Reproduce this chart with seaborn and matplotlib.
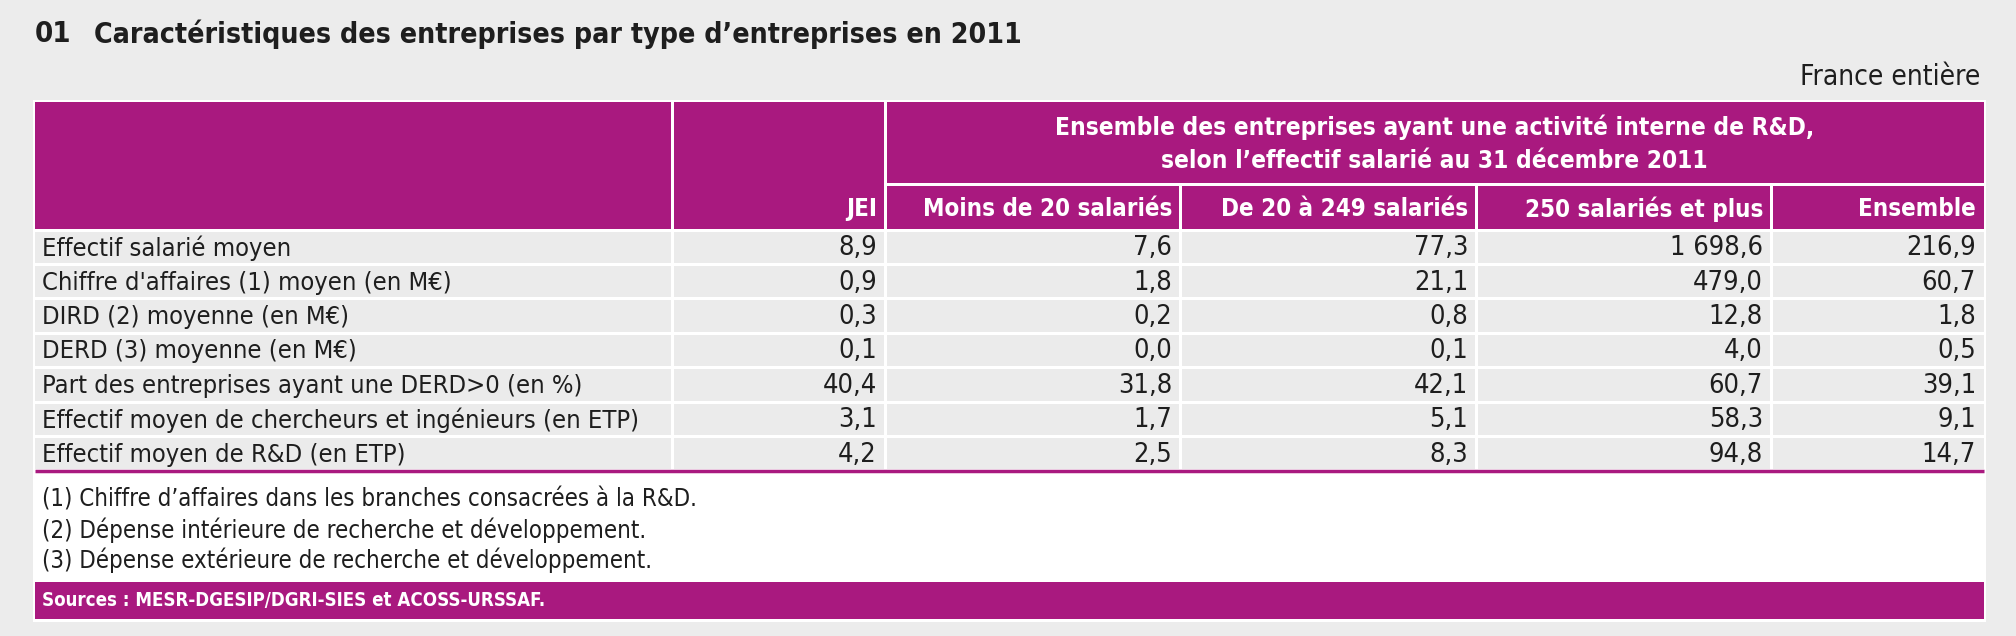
import matplotlib
matplotlib.use("Agg")
import matplotlib.pyplot as plt
import seaborn as sns
from matplotlib.patches import Rectangle

# ===============================================
# Données
# ===============================================
row_labels = [
    "Effectif salarié moyen",
    "Chiffre d'affaires (1) moyen (en M€)",
    "DIRD (2) moyenne (en M€)",
    "DERD (3) moyenne (en M€)",
    "Part des entreprises ayant une DERD>0 (en %)",
    "Effectif moyen de chercheurs et ingénieurs (en ETP)",
    "Effectif moyen de R&D (en ETP)",
]
col_labels = ["JEI", "Moins de 20 salariés", "De 20 à 249 salariés",
              "250 salariés et plus", "Ensemble"]
group_label = ("Ensemble des entreprises ayant une activité interne de R&D,\n"
               "selon l’effectif salarié au 31 décembre 2011")

jei = [8.9, 0.9, 0.3, 0.1, 40.4, 3.1, 4.2]
moins_20 = [7.6, 1.8, 0.2, 0.0, 31.8, 1.7, 2.5]
de_20_249 = [77.3, 21.1, 0.8, 0.1, 42.1, 5.1, 8.3]
plus_250 = [1698.6, 479.0, 12.8, 4.0, 60.7, 58.3, 94.8]
ensemble = [216.9, 60.7, 1.8, 0.5, 39.1, 9.1, 14.7]
columns = [jei, moins_20, de_20_249, plus_250, ensemble]

title_num = "01"
title = "Caractéristiques des entreprises par type d’entreprises en 2011"
zone = "France entière"
notes = [
    "(1) Chiffre d’affaires dans les branches consacrées à la R&D.",
    "(2) Dépense intérieure de recherche et développement.",
    "(3) Dépense extérieure de recherche et développement.",
]
sources = "Sources : MESR-DGESIP/DGRI-SIES et ACOSS-URSSAF."


def fr(v):
    # format français : espace pour les milliers, virgule décimale
    return f"{v:,.1f}".replace(",", " ").replace(".", ",")


# ===============================================
# Style
# ===============================================
sns.set_theme(style="white")
plt.rcParams['font.family'] = ['DejaVu Sans']
plt.rcParams['font.stretch'] = 'condensed'   # DejaVu Sans Condensed

MAGENTA = "#a9197f"
BG = "#ececec"
CELL = "#ebebeb"
INK = "#1e1e1e"

W, H = 2016, 636
col_edges = [35, 672, 885, 1180, 1476, 1771, 1984]
top, split, head_bot = 102, 184, 230
row_h = 34.4

fig = plt.figure(figsize=(W / 100, H / 100), dpi=100, facecolor=BG)
ax = fig.add_axes([0, 0, 1, 1])
ax.set_xlim(0, W)
ax.set_ylim(H, 0)
ax.axis("off")

body_bot = head_bot + row_h * len(row_labels)

# cadre blanc
ax.add_patch(Rectangle((33, top - 2), col_edges[-1] - 33 + 2, 622 - top + 2,
                       facecolor="white", edgecolor="none"))

# en-tête
ax.add_patch(Rectangle((col_edges[0], top), col_edges[1] - col_edges[0] - 1.5,
                       head_bot - top - 1.5, facecolor=MAGENTA, edgecolor="none"))
ax.add_patch(Rectangle((col_edges[1] + 1.5, top), col_edges[2] - col_edges[1] - 3,
                       head_bot - top - 1.5, facecolor=MAGENTA, edgecolor="none"))
ax.add_patch(Rectangle((col_edges[2] + 1.5, top), col_edges[-1] - col_edges[2] - 1.5,
                       split - top - 1.5, facecolor=MAGENTA, edgecolor="none"))
ax.text((col_edges[2] + col_edges[-1]) / 2, (top + split) / 2 + 1, group_label,
        ha="center", va="center", color="white", fontsize=17.6, fontweight="bold",
        linespacing=1.5)

for j, lab in enumerate(col_labels):
    x0, x1 = col_edges[j + 1], col_edges[j + 2]
    if j > 0:
        ax.add_patch(Rectangle((x0 + 1.5, split + 1.5), x1 - x0 - 1.5 - (0 if j == 4 else 1.5),
                               head_bot - split - 3, facecolor=MAGENTA, edgecolor="none"))
    ax.text(x1 - 8, head_bot - 21, lab, ha="right", va="center", color="white",
            fontsize=17.3, fontweight="bold")

# corps du tableau
for i, lab in enumerate(row_labels):
    y0 = head_bot + i * row_h
    for j in range(len(col_edges) - 1):
        x0, x1 = col_edges[j], col_edges[j + 1]
        l = 0 if j == 0 else 1.5
        r = 0 if j == len(col_edges) - 2 else 1.5
        ax.add_patch(Rectangle((x0 + l, y0 + 1.5), x1 - x0 - l - r, row_h - 3,
                               facecolor=CELL, edgecolor="none"))
    ax.text(col_edges[0] + 7, y0 + row_h / 2 + 1, lab, ha="left", va="center",
            color=INK, fontsize=18.3)
    for j, vals in enumerate(columns):
        ax.text(col_edges[j + 2] - 8, y0 + row_h / 2 + 1, fr(vals[i]), ha="right",
                va="center", color=INK, fontsize=19.5)

ax.plot([col_edges[0], col_edges[-1]], [body_bot, body_bot], color=MAGENTA, lw=2.5,
        solid_capstyle="butt")

# notes
for n_i, n in enumerate(notes):
    ax.text(col_edges[0] + 7, 500 + n_i * 30, n, ha="left", va="center",
            color=INK, fontsize=17.2)

# sources
ax.add_patch(Rectangle((col_edges[0], 582), col_edges[-1] - col_edges[0], 37,
                       facecolor=MAGENTA, edgecolor="none"))
ax.text(col_edges[0] + 7, 601, sources, ha="left", va="center", color="white",
        fontsize=13.4, fontweight="bold")

# titre
ax.text(35, 34, title_num, ha="left", va="center", color=INK,
        fontsize=21, fontweight="bold")
ax.text(94, 34, title, ha="left", va="center", color=INK,
        fontsize=20.4, fontweight="bold")
ax.text(1980, 77, zone, ha="right", va="center", color=INK, fontsize=20.2)

fig.savefig("out.png", dpi=100, facecolor=BG)
